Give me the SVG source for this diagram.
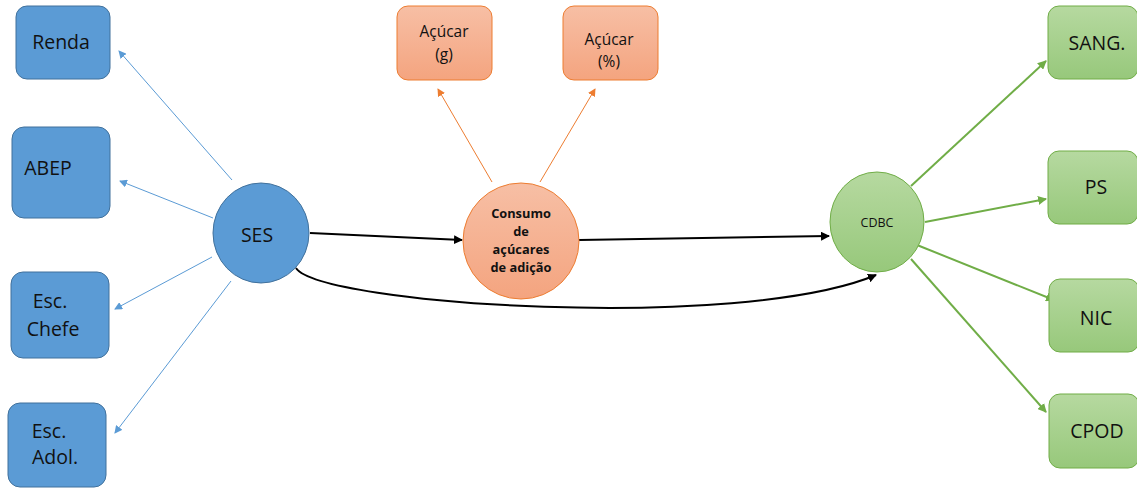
<svg xmlns="http://www.w3.org/2000/svg" width="1137" height="488" viewBox="0 0 1137 488">
<style>
.blue{fill:#5B9BD5;stroke:#41719C;stroke-width:1}
.orange{fill:url(#og);stroke:#ED7D31;stroke-width:1}
.green{fill:url(#gg);stroke:#70AD47;stroke-width:1}
.t{font-family:"Open Sans","Liberation Sans",sans-serif;fill:#111;text-anchor:middle}
.big{font-size:19.5px}
.mid{font-size:15.5px}
.cb{font-size:12.8px;font-weight:bold}
.ca{fill:none;stroke-width:1}
.bl{stroke:#5B9BD5;marker-end:url(#ab)}
.or{stroke:#ED7D31;marker-end:url(#ao)}
.gr{stroke:#70AD47;stroke-width:2;marker-end:url(#ag)}
.bk{stroke:#000;stroke-width:2;marker-end:url(#ak)}
</style>
<defs>
<linearGradient id="og" x1="0" y1="0" x2="0" y2="1"><stop offset="0" stop-color="#F7BFA5"/><stop offset="1" stop-color="#F4A47F"/></linearGradient>
<linearGradient id="gg" x1="0" y1="0" x2="0" y2="1"><stop offset="0" stop-color="#B6D9A0"/><stop offset="1" stop-color="#97C87B"/></linearGradient>
<marker id="ab" markerWidth="8" markerHeight="8" refX="7" refY="4" orient="auto" markerUnits="userSpaceOnUse"><path d="M0,0 L8,4 L0,8 Z" fill="#5B9BD5"/></marker>
<marker id="ao" markerWidth="8" markerHeight="8" refX="7" refY="4" orient="auto" markerUnits="userSpaceOnUse"><path d="M0,0 L8,4 L0,8 Z" fill="#ED7D31"/></marker>
<marker id="ag" markerWidth="9" markerHeight="9" refX="8" refY="4.5" orient="auto" markerUnits="userSpaceOnUse"><path d="M0,0 L9,4.5 L0,9 Z" fill="#70AD47"/></marker>
<marker id="ak" markerWidth="9" markerHeight="9" refX="8" refY="4.5" orient="auto" markerUnits="userSpaceOnUse"><path d="M0,0 L9,4.5 L0,9 Z" fill="#000"/></marker>
</defs>
<rect width="1137" height="488" fill="#fff"/>

<g id="connectors">
<line class="ca bl" x1="232" y1="180" x2="119" y2="51"/>
<line class="ca bl" x1="213" y1="218" x2="120" y2="181"/>
<line class="ca bl" x1="212" y1="257" x2="115" y2="309"/>
<line class="ca bl" x1="231" y1="281" x2="115" y2="433"/>
<line class="ca or" x1="492" y1="182" x2="438" y2="89"/>
<line class="ca or" x1="540" y1="182" x2="595" y2="89"/>
<line class="ca bk" x1="310" y1="233" x2="462" y2="240"/>
<line class="ca bk" x1="579" y1="240" x2="829" y2="236"/>
<path class="ca bk" d="M296,268 C320,305 740,332 876,275"/>
<line class="ca gr" x1="911" y1="186" x2="1046" y2="61"/>
<line class="ca gr" x1="925" y1="222" x2="1046" y2="199"/>
<line class="ca gr" x1="917" y1="245" x2="1054" y2="300"/>
<line class="ca gr" x1="911" y1="259" x2="1046" y2="412"/>
</g>

<g id="renda"><rect class="blue" x="16" y="6" width="94" height="73" rx="11"/><text class="t big" x="61" y="49">Renda</text></g>
<g id="abep"><rect class="blue" x="12" y="127" width="98" height="91" rx="12"/><text class="t big" x="48" y="175">ABEP</text></g>
<g id="escchefe"><rect class="blue" x="11" y="272" width="98" height="86" rx="12"/><text class="t big" x="50" y="308">Esc.</text><text class="t big" x="53" y="336">Chefe</text></g>
<g id="escadol"><rect class="blue" x="8" y="403" width="98" height="84" rx="12"/><text class="t big" x="49" y="438">Esc.</text><text class="t big" x="55" y="464">Adol.</text></g>
<g id="ses"><ellipse class="blue" cx="261" cy="233" rx="48" ry="50"/><text class="t big" x="257" y="242">SES</text></g>

<g id="acucarg"><rect class="orange" x="397" y="6" width="95" height="74" rx="11"/><text class="t mid" x="444" y="37">Açúcar</text><text class="t mid" x="444" y="60">(g)</text></g>
<g id="acucarp"><rect class="orange" x="563" y="6" width="95" height="74" rx="11"/><text class="t mid" x="609" y="45">Açúcar</text><text class="t mid" x="609" y="67">(%)</text></g>
<g id="consumo"><circle class="orange" cx="521" cy="241" r="58"/>
<text class="t cb" x="521" y="218">Consumo</text><text class="t cb" x="521" y="236">de</text><text class="t cb" x="521" y="254">açúcares</text><text class="t cb" x="521" y="272">de adição</text></g>

<g id="cdbc"><ellipse class="green" cx="877" cy="222" rx="47" ry="50"/><text class="t" style="font-size:12.5px" x="877" y="227">CDBC</text></g>
<g id="sang"><rect class="green" x="1048" y="6" width="90" height="73" rx="11"/><text class="t big" x="1097" y="50">SANG.</text></g>
<g id="ps"><rect class="green" x="1048" y="151" width="90" height="73" rx="11"/><text class="t big" x="1096" y="194">PS</text></g>
<g id="nic"><rect class="green" x="1049" y="279" width="90" height="73" rx="11"/><text class="t big" x="1096" y="325">NIC</text></g>
<g id="cpod"><rect class="green" x="1049" y="394" width="90" height="74" rx="11"/><text class="t big" x="1097" y="438">CPOD</text></g>
</svg>
